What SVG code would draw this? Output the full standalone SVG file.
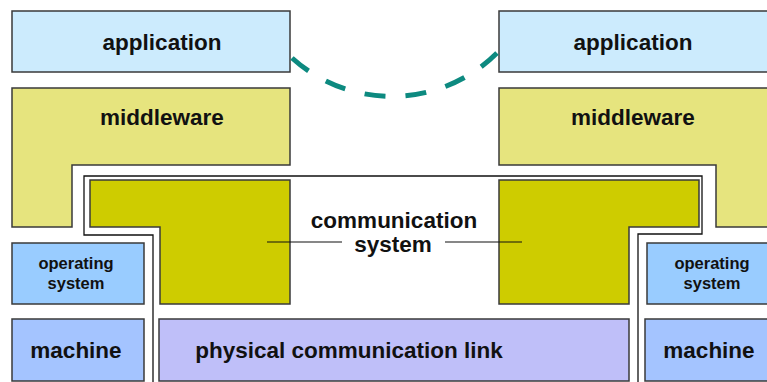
<svg xmlns="http://www.w3.org/2000/svg" width="767" height="382" viewBox="0 0 767 382">
  <style>
    .box { stroke: #3a3a3a; stroke-width: 1.5; }
    .app { fill: #ccebfd; }
    .mw { fill: #e6e47e; }
    .comm { fill: #cecc00; }
    .os { fill: #99ccff; }
    .mach { fill: #a4c4ff; }
    .link { fill: #bfbff9; }
    .lbl { font-family: "Liberation Sans", Arial, Helvetica, sans-serif; font-weight: bold; fill: #111; text-anchor: middle; }
    .big { font-size: 22.5px; }
    .small { font-size: 16.5px; }
    .frame { fill: none; stroke: #111; stroke-width: 1.3; }
    .leader { fill: none; stroke: #111; stroke-width: 1.1; }
    .peer { fill: none; stroke: #0d8a80; stroke-width: 5; stroke-dasharray: 21 20; }
  </style>

  <!-- enclosure of the communication system -->
  <g id="comm-frame">
    <path class="frame" d="M153,382 V235 H84 V176 H702 V234 H638 V382"/>
  </g>

  <g id="app-left">
    <rect class="box app" x="12" y="11" width="278" height="61"/>
    <text class="lbl big" x="162" y="50">application</text>
  </g>
  <g id="app-right">
    <rect class="box app" x="499" y="11" width="278" height="61"/>
    <text class="lbl big" x="633" y="50">application</text>
  </g>

  <g id="mw-left">
    <path class="box mw" d="M12,88 H290 V165 H72 V227 H12 Z"/>
    <text class="lbl big" x="162" y="125">middleware</text>
  </g>
  <g id="mw-right">
    <path class="box mw" d="M499,88 H777 V227 H716 V165 H499 Z"/>
    <text class="lbl big" x="633" y="125">middleware</text>
  </g>

  <g id="comm-left">
    <path class="box comm" d="M90,180 H290 V304 H160 V227 H90 Z"/>
  </g>
  <g id="comm-right">
    <path class="box comm" d="M499,180 H699 V227 H629 V304 H499 Z"/>
  </g>
  <g id="comm-label">
    <text class="lbl big" x="394" y="228">communication</text>
    <text class="lbl big" x="393" y="252">system</text>
  </g>

  <g id="os-left">
    <rect class="box os" x="12" y="243" width="132" height="61"/>
    <text class="lbl small" x="76" y="269">operating</text>
    <text class="lbl small" x="76" y="289">system</text>
  </g>
  <g id="os-right">
    <rect class="box os" x="647" y="243" width="132" height="61"/>
    <text class="lbl small" x="712" y="269">operating</text>
    <text class="lbl small" x="712" y="289">system</text>
  </g>

  <g id="machine-left">
    <rect class="box mach" x="12" y="319" width="132" height="62"/>
    <text class="lbl big" x="76" y="358">machine</text>
  </g>
  <g id="machine-right">
    <rect class="box mach" x="645" y="319" width="132" height="62"/>
    <text class="lbl big" x="709" y="358">machine</text>
  </g>

  <g id="physical-link">
    <rect class="box link" x="159" y="319" width="470" height="62"/>
    <text class="lbl big" x="349" y="358">physical communication link</text>
  </g>

  <g id="connectors">
    <path class="peer" pathLength="226" d="M292,58 A149 149 0 0 0 497,53"/>
    <line class="leader" x1="267" y1="242" x2="342" y2="242"/>
    <line class="leader" x1="445" y1="242" x2="522" y2="242"/>
  </g>
</svg>
